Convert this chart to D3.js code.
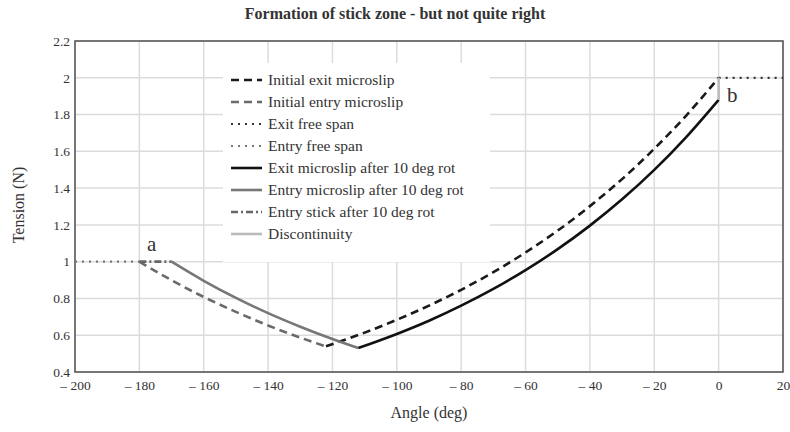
<!DOCTYPE html>
<html><head><meta charset="utf-8">
<script src="https://cdn.jsdelivr.net/npm/d3@7/dist/d3.min.js"></script>
<style>body{margin:0;background:#fff}svg{display:block}</style>
</head><body>
<script>
const xTicks = [-200,-180,-160,-140,-120,-100,-80,-60,-40,-20,0,20];
const yTicks = [0.4,0.6,0.8,1,1.2,1.4,1.6,1.8,2,2.2];

const exitInitAngle = [-122,-110,-100,-90,-80,-70,-60,-50,-40,-30,-20,-10,0];
const exitInitT     = [0.540,0.614,0.684,0.761,0.847,0.943,1.050,1.169,1.302,1.449,1.614,1.796,2.0];
const entryInitAngle = [-180,-170,-160,-150,-140,-130,-122];
const entryInitT     = [1.0,0.899,0.808,0.727,0.653,0.587,0.539];
const exitFreeAngle = [0,20];
const exitFreeT     = [2,2];
const entryFreeAngle = [-200,-180];
const entryFreeT     = [1,1];
const exitRotAngle = [-112,-100,-90,-80,-70,-60,-50,-40,-30,-20,-10,0];
const exitRotT     = [0.530,0.607,0.679,0.761,0.852,0.954,1.068,1.196,1.339,1.499,1.679,1.88];
const entryRotAngle = [-170,-160,-150,-140,-130,-120,-112];
const entryRotT     = [1.0,0.896,0.803,0.720,0.646,0.579,0.530];
const stickAngle = [-180,-170];
const stickT     = [1,1];
const discAngle = [0,0];
const discT     = [1.88,2];

const seriesNames = ["Initial exit microslip","Initial entry microslip","Exit free span","Entry free span",
  "Exit microslip after 10 deg rot","Entry microslip after 10 deg rot","Entry stick after 10 deg rot","Discontinuity"];

const series = [
  {x:exitInitAngle,y:exitInitT,color:"#1a1a1a",dash:"8,5",w:2.6},
  {x:entryInitAngle,y:entryInitT,color:"#6a6a6a",dash:"8,5",w:2.6},
  {x:exitFreeAngle,y:exitFreeT,color:"#333",dash:"2,5",w:2.2},
  {x:entryFreeAngle,y:entryFreeT,color:"#777",dash:"2,5",w:2.2},
  {x:exitRotAngle,y:exitRotT,color:"#111",dash:null,w:2.6},
  {x:entryRotAngle,y:entryRotT,color:"#777",dash:null,w:2.6},
  {x:stickAngle,y:stickT,color:"#666",dash:"7,3,2,3",w:2.6},
  {x:discAngle,y:discT,color:"#bbb",dash:null,w:2.6}
];
series.forEach((s,i)=>s.name=seriesNames[i]);

const FONT = "'Liberation Serif'";
const W=790,H=432;
const m={l:75,r:783,t:41,b:372};
const svg=d3.select("body").append("svg").attr("width",W).attr("height",H);
const x=d3.scaleLinear().domain([-200,20]).range([m.l,m.r]);
const y=d3.scaleLinear().domain([0.4,2.2]).range([m.b,m.t]);

function txt(sel){ return sel.style("font-family",FONT).attr("fill","#333"); }

// grid
svg.append("g").selectAll("line").data(xTicks).join("line")
  .attr("x1",d=>x(d)).attr("x2",d=>x(d)).attr("y1",m.t).attr("y2",m.b)
  .attr("stroke","#dcdcdc").attr("stroke-width",1.5);
svg.append("g").selectAll("line").data(yTicks).join("line")
  .attr("x1",m.l).attr("x2",m.r).attr("y1",d=>y(d)).attr("y2",d=>y(d))
  .attr("stroke","#dcdcdc").attr("stroke-width",1.5);

// legend background
svg.append("rect").attr("x",223).attr("y",63).attr("width",267).attr("height",199).attr("fill","#fff");

// axes
const fmt=d=> d<0 ? "\u2013 "+Math.abs(d) : String(d);
const xa=svg.append("g").attr("transform",`translate(0,${m.b})`)
  .call(d3.axisBottom(x).tickValues(xTicks).tickFormat(fmt).tickSize(0).tickPadding(8));
xa.select(".domain").remove();
xa.selectAll("text").attr("font-size",13.5).call(txt);
const ya=svg.append("g").attr("transform",`translate(${m.l},0)`)
  .call(d3.axisLeft(y).tickValues(yTicks).tickFormat(d=>String(+d.toFixed(1))).tickSize(0).tickPadding(5));
ya.select(".domain").remove();
ya.selectAll("text").attr("font-size",13.5).call(txt);

// frame
svg.append("rect").attr("x",m.l).attr("y",m.t).attr("width",m.r-m.l).attr("height",m.b-m.t)
  .attr("fill","none").attr("stroke","#5a5a5a").attr("stroke-width",1.6);

// lines
const line=d3.line().x(d=>x(d[0])).y(d=>y(d[1])).curve(d3.curveMonotoneX);
const lineStraight=d3.line().x(d=>x(d[0])).y(d=>y(d[1]));
series.forEach(s=>{
  const pts=s.x.map((v,i)=>[v,s.y[i]]);
  const gen = (s.x[0]===s.x[s.x.length-1]) ? lineStraight : line;
  svg.append("path").attr("d",gen(pts)).attr("fill","none").attr("stroke",s.color)
    .attr("stroke-width",s.w).attr("stroke-dasharray",s.dash);
});

// legend
const lg=svg.append("g");
series.forEach((s,i)=>{
  const yy=80+i*22;
  lg.append("line").attr("x1",231).attr("x2",262).attr("y1",yy).attr("y2",yy)
    .attr("stroke",s.color).attr("stroke-width",s.w).attr("stroke-dasharray",s.dash);
  lg.append("text").attr("x",268).attr("y",yy+5).attr("font-size",15.5).call(txt).text(s.name);
});

// annotations
svg.append("text").attr("x",147).attr("y",251).attr("font-size",21).call(txt).text("a");
svg.append("text").attr("x",727).attr("y",102).attr("font-size",21).call(txt).text("b");

// title & axis titles
svg.append("text").attr("x",395).attr("y",19).attr("text-anchor","middle").call(txt)
  .attr("font-size",16).attr("font-weight","bold").text("Formation of stick zone - but not quite right");
svg.append("text").attr("x",429).attr("y",418).attr("text-anchor","middle").call(txt)
  .attr("font-size",16).text("Angle (deg)");
svg.append("text").attr("transform","translate(24,205) rotate(-90)").attr("text-anchor","middle").call(txt)
  .attr("font-size",16).text("Tension (N)");
</script>
</body></html>
